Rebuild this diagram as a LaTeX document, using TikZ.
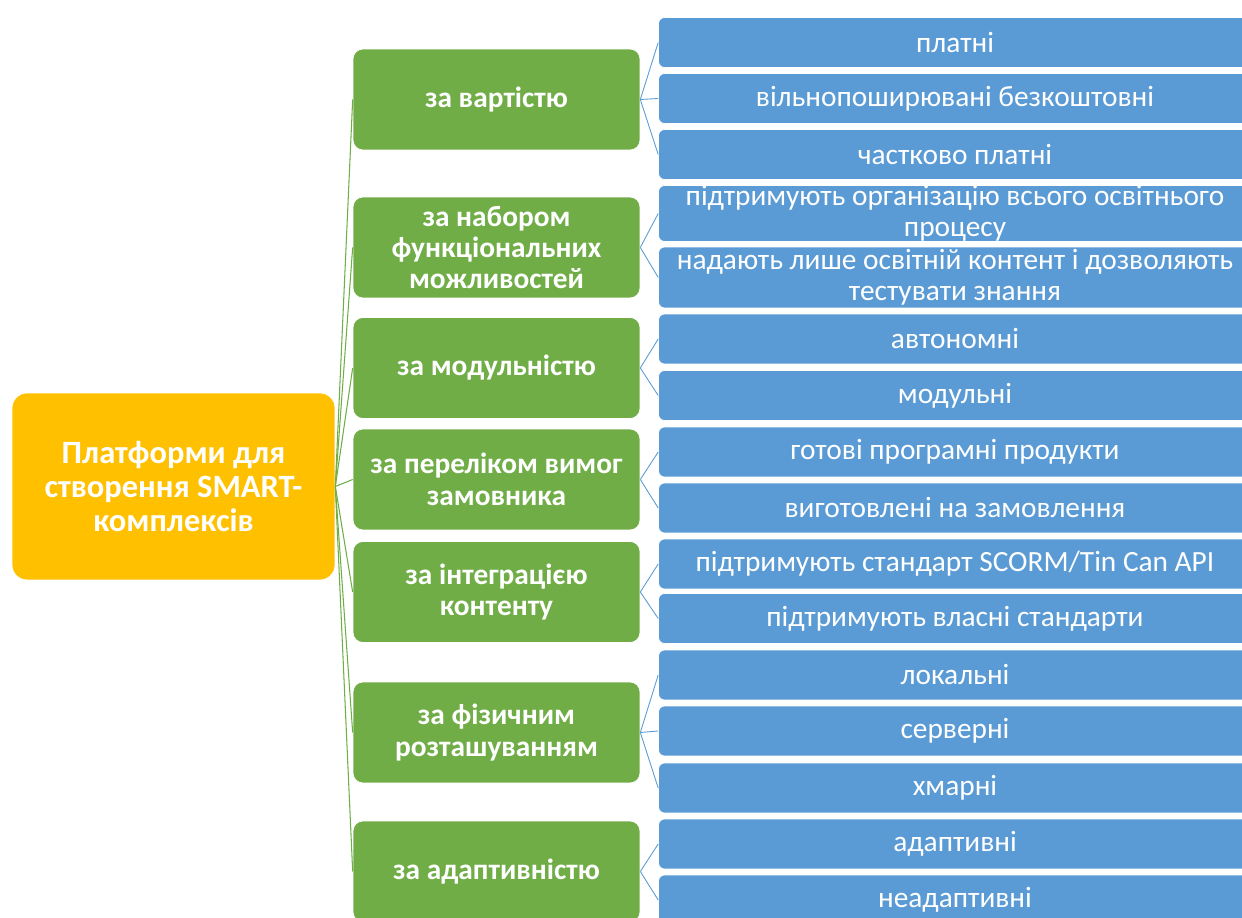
\documentclass[tikz,border=0pt]{standalone}
\usepackage{fontspec}
\setmainfont{Carlito}
\usepackage{tikz}
\usetikzlibrary{positioning}
\definecolor{smartyellow}{RGB}{255,192,0}
\definecolor{smartgreen}{RGB}{112,173,71}
\definecolor{smartblue}{RGB}{91,155,213}

\begin{document}
\begin{tikzpicture}[
    x=0.02cm, y=-0.02cm,
    rootbox/.style={draw=white, fill=smartyellow, rounded corners=0.3cm, text=white, align=center, inner sep=0pt, minimum width=6.46cm, minimum height=3.74cm, font=\fontsize{18.5pt}{19.6pt}\selectfont\bfseries},
    grp/.style={draw=white, fill=smartgreen, rounded corners=0.2cm, text=white, align=center, inner sep=0pt, minimum width=5.74cm, minimum height=2.02cm, font=\fontsize{16.7pt}{17.9pt}\selectfont\bfseries},
    leaf/.style={draw=white, fill=smartblue, rounded corners=0.12cm, text=white, align=center, inner sep=0pt, minimum width=11.86cm, minimum height=1cm, font=\fontsize{16.7pt}{17.6pt}\selectfont},
    gline/.style={smartgreen, line width=0.6pt},
    bline/.style={smartblue, line width=0.5pt}
]
\useasboundingbox (0,0) rectangle (1242,918);
\clip (0,0) rectangle (1242,918);

\node[rootbox] (root) at (173.5,486.5) {Платформи для\\створення SMART-\\комплексів};

\node[grp] (g1) at (496.5,99.5) {за вартістю};
\node[grp] (g2) at (496.5,247.5) {за набором\\функціональних\\можливостей};
\node[grp] (g3) at (496.5,368) {за модульністю};
\node[grp] (g4) at (496.5,479.5) {за переліком вимог\\замовника};
\node[grp] (g5) at (496.5,592) {за інтеграцією\\контенту};
\node[grp] (g6) at (496.5,732.5) {за фізичним\\розташуванням};
\node[grp] (g7) at (496.5,871.5) {за адаптивністю};

\node[leaf] (b1) at (955,42.5) {платні};
\node[leaf] (b2) at (955,98.5) {вільнопоширювані безкоштовні};
\node[leaf] (b3) at (955,154.5) {частково платні};
\node[leaf, minimum height=1.1cm] (b4) at (955,213.5) {підтримують організацію всього освітнього\\процесу};
\node[leaf, minimum height=1.22cm] (b5) at (955,277.5) {надають лише освітній контент і дозволяють\\тестувати знання};
\node[leaf] (b6) at (955,339) {автономні};
\node[leaf] (b7) at (955,395.5) {модульні};
\node[leaf] (b8) at (955,452) {готові програмні продукти};
\node[leaf] (b9) at (955,508) {виготовлені на замовлення};
\node[leaf] (b10) at (955,564) {підтримують стандарт SCORM/Tin Can API};
\node[leaf] (b11) at (955,618.5) {підтримують власні стандарти};
\node[leaf] (b12) at (955,675) {локальні};
\node[leaf] (b13) at (955,731) {серверні};
\node[leaf] (b14) at (955,788) {хмарні};
\node[leaf] (b15) at (955,844) {адаптивні};
\node[leaf] (b16) at (955,900) {неадаптивні};

% root to groups
\draw[gline] (root.east) -- (g1.west);
\draw[gline] (root.east) -- (g2.west);
\draw[gline] (root.east) -- (g3.west);
\draw[gline] (root.east) -- (g4.west);
\draw[gline] (root.east) -- (g5.west);
\draw[gline] (root.east) -- (g6.west);
\draw[gline] (root.east) -- (g7.west);

% groups to leaves
\draw[bline] (g1.east) -- (b1.west);
\draw[bline] (g1.east) -- (b2.west);
\draw[bline] (g1.east) -- (b3.west);
\draw[bline] (g2.east) -- (b4.west);
\draw[bline] (g2.east) -- (b5.west);
\draw[bline] (g3.east) -- (b6.west);
\draw[bline] (g3.east) -- (b7.west);
\draw[bline] (g4.east) -- (b8.west);
\draw[bline] (g4.east) -- (b9.west);
\draw[bline] (g5.east) -- (b10.west);
\draw[bline] (g5.east) -- (b11.west);
\draw[bline] (g6.east) -- (b12.west);
\draw[bline] (g6.east) -- (b13.west);
\draw[bline] (g6.east) -- (b14.west);
\draw[bline] (g7.east) -- (b15.west);
\draw[bline] (g7.east) -- (b16.west);
\end{tikzpicture}
\end{document}
